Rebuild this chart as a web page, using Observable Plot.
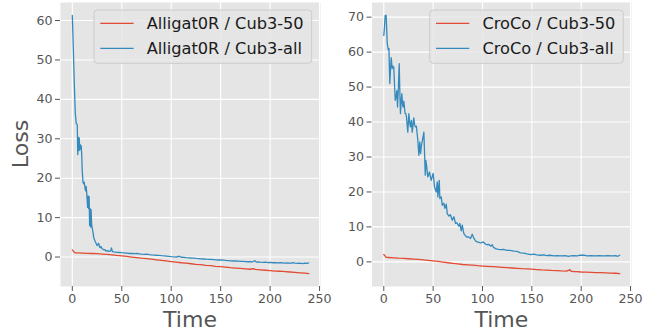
<!DOCTYPE html>
<html>
<head>
<meta charset="utf-8">
<script src="https://cdn.jsdelivr.net/npm/d3@7"></script>
<script src="https://cdn.jsdelivr.net/npm/@observablehq/plot@0.6"></script>
<style>
  html, body { margin: 0; padding: 0; background: #fff; }
  #wrap { position: relative; width: 654px; height: 335px; overflow: hidden; font-family: "DejaVu Sans", sans-serif; }
  .panel { position: absolute; top: 0; }
  .lab { position: absolute; font-size: 22px; line-height: 1; color: #555555; white-space: nowrap; }
  svg.leg { position: absolute; left: 0; top: 0; pointer-events: none; }
</style>
</head>
<body>
<div id="wrap"></div>
<script>
// ---------- data ----------
const xTicks = [0, 50, 100, 150, 200, 250];
const leftYTicks = [0, 10, 20, 30, 40, 50, 60];
const rightYTicks = [0, 10, 20, 30, 40, 50, 60, 70];

const leftLabels = ["Alligat0R / Cub3-50", "Alligat0R / Cub3-all"];
const rightLabels = ["CroCo / Cub3-50", "CroCo / Cub3-all"];

// [time, loss]
const alligatorCub50 = [[0,1.8],[1,1.5],[2,1.2],[3,1.05],[5,1.05],[10,1.0],[15,0.95],[20,0.9],[25,0.85],[30,0.75],[35,0.65],[40,0.55],[45,0.4],[50,0.3],[55,0.15],[60,0.0],[65,-0.15],[70,-0.3],[75,-0.4],[80,-0.55],[85,-0.7],[90,-0.85],[95,-1.0],[100,-1.15],[105,-1.3],[110,-1.45],[115,-1.55],[120,-1.7],[125,-1.85],[130,-1.95],[135,-2.1],[140,-2.2],[145,-2.35],[150,-2.45],[155,-2.55],[160,-2.7],[165,-2.8],[170,-2.9],[175,-3.0],[180,-3.1],[183,-2.95],[185,-3.15],[190,-3.25],[195,-3.35],[200,-3.45],[205,-3.55],[210,-3.6],[215,-3.7],[220,-3.8],[225,-3.9],[230,-4.0],[235,-4.1],[239,-4.2]];

const alligatorCubAll = [[0,61.3],[1,53],[2,44],[3,36.5],[4,33.8],[5,33.6],[5.5,26.0],[6,30.4],[6.5,27.0],[7,30.2],[7.5,27.2],[8,28.5],[8.5,27.5],[9,28.2],[9.5,26],[10,22],[10.8,19.0],[11.5,18.6],[12,19.0],[13,17.3],[13.5,16.8],[14,17.9],[14.5,16.5],[15.5,12.6],[16,15.5],[16.5,12.3],[17,15.3],[17.5,8.0],[18,12.3],[18.5,7.6],[19,12.0],[19.5,8.5],[20,7.5],[21,6.2],[21.6,5.0],[22.5,4.3],[23,4.0],[24,3.5],[25,2.9],[26,3.2],[26.6,3.5],[27.5,2.6],[28,2.4],[29,2.7],[30,2.1],[31,2.0],[32,1.8],[33,1.9],[34,1.5],[35,1.6],[36,1.6],[37,1.4],[38,1.5],[39,1.7],[39.5,2.3],[40,1.9],[40.5,1.4],[42,1.3],[45,1.2],[48,1.15],[50,1.1],[53,1.05],[55,1.0],[58,0.9],[60,0.95],[63,0.85],[65,0.9],[68,0.8],[70,0.75],[73,0.7],[75,0.72],[78,0.6],[80,0.55],[83,0.5],[85,0.45],[88,0.42],[90,0.35],[93,0.3],[95,0.25],[98,0.15],[100,0.1],[103,0.05],[105,0.0],[108,0.2],[110,-0.05],[113,-0.1],[115,-0.15],[118,-0.2],[120,-0.25],[123,-0.3],[125,-0.35],[128,-0.4],[130,-0.45],[133,-0.5],[135,-0.55],[138,-0.6],[140,-0.6],[143,-0.65],[145,-0.7],[148,-0.75],[150,-0.75],[153,-0.8],[155,-0.85],[158,-0.9],[160,-0.95],[163,-1.0],[165,-1.0],[168,-1.05],[170,-1.1],[173,-1.1],[175,-1.15],[178,-1.2],[180,-1.15],[182,-1.25],[184,-0.95],[185,-1.0],[186,-1.3],[188,-1.25],[190,-1.3],[193,-1.35],[195,-1.3],[198,-1.4],[200,-1.35],[203,-1.45],[205,-1.4],[208,-1.5],[210,-1.45],[213,-1.5],[215,-1.55],[218,-1.5],[220,-1.6],[223,-1.4],[225,-1.55],[228,-1.6],[230,-1.55],[233,-1.65],[235,-1.55],[237,-1.6],[239,-1.5]];

const crocoCub50 = [[0,2.1],[1,1.8],[2,1.4],[2.7,1.3],[5,1.25],[10,1.15],[15,1.05],[20,1.0],[25,0.9],[30,0.8],[35,0.7],[40,0.6],[45,0.45],[50,0.3],[55,0.15],[60,-0.05],[65,-0.25],[70,-0.45],[75,-0.6],[80,-0.75],[85,-0.85],[90,-0.95],[95,-1.1],[100,-1.2],[105,-1.28],[110,-1.37],[115,-1.45],[120,-1.55],[125,-1.65],[130,-1.75],[135,-1.85],[140,-1.95],[145,-2.0],[150,-2.1],[155,-2.2],[160,-2.3],[165,-2.35],[170,-2.45],[175,-2.5],[180,-2.6],[185,-2.65],[187,-2.45],[188.5,-2.2],[189.5,-2.65],[192,-2.75],[195,-2.8],[200,-2.9],[205,-2.95],[210,-3.0],[215,-3.05],[220,-3.1],[225,-3.15],[230,-3.2],[235,-3.25],[239,-3.35]];

const crocoCubAll = [[0,64.8],[0.7,67],[1.4,70.5],[2.4,70.5],[3,66],[3.5,62.4],[4.5,60.7],[5.2,61],[6.1,51],[7,56],[7.5,58.4],[8.5,55.3],[9.2,56],[10.1,55.7],[11,50],[11.6,46.2],[12.6,47.5],[13.2,49],[13.9,44.3],[14.8,50],[15.6,56.7],[16.3,48],[16.9,42.4],[17.6,46],[18.3,48.1],[19,45],[19.6,44.3],[20.3,46],[21.5,42.5],[22.3,42.4],[23,41.4],[24.3,37.1],[25.4,42.4],[26.2,40],[27,38.6],[28,40.5],[28.8,37.1],[30.4,41.2],[31.3,39],[32.1,38.6],[33,38.8],[34.5,34.8],[35.5,30.5],[36.5,34.3],[37.3,31],[38,33],[40.6,37.1],[41.3,31],[42,24.8],[42.6,29],[43.3,27.6],[44.6,24.3],[46.3,25.7],[48,23.3],[50,25.3],[51.4,21.4],[53.1,20],[54.2,22.9],[54.8,18.6],[56.2,23.3],[56.8,18.1],[58.2,18.6],[59.2,16.2],[60.9,16.8],[61.9,15.3],[63.3,16.5],[64.3,13.8],[66,13.1],[67.5,13.5],[69.4,11.9],[71,12.9],[72.7,11],[74,11.2],[76,10.2],[77,11],[78.5,8.9],[79.5,10.5],[81.1,8.1],[83.9,7.1],[85.5,7.2],[87.9,6.7],[89.6,7.9],[91.3,6.7],[93,6.0],[94.7,5.7],[96.5,5.6],[98,5.4],[100.8,5.7],[103,5.1],[105,4.9],[106.5,5.0],[108.5,4.5],[109.9,4.9],[111,4.2],[113.3,3.8],[116,3.6],[118.4,3.5],[121,3.6],[125,3.3],[128,3.3],[131.9,3.1],[135,3.0],[138.6,2.6],[142,2.5],[145,2.3],[148.8,2.1],[152,2.2],[155,2.0],[158.9,1.9],[162,2.0],[165,1.8],[168,1.9],[172.4,1.7],[176,1.8],[180,1.7],[184,1.8],[187,1.6],[189.3,1.7],[193,1.8],[196,1.7],[199,1.9],[202.8,1.9],[206,1.7],[210,1.8],[214,1.7],[218,1.8],[223,1.7],[227,1.8],[231,1.7],[235,1.8],[237,1.6],[239,1.9]];

// ---------- style ----------
const RED = "#E24A33", BLUE = "#348ABD", BG = "#E5E5E5", TXT = "#555555";

function paddedDomain(values) {
  const [lo, hi] = d3.extent(values);
  const p = (hi - lo) * 0.05;
  return [lo - p, hi + p];
}

function panel({width, ml, mr, yTicks, s50, sAll}) {
  const xDomain = paddedDomain([...s50, ...sAll].map(d => d[0]));
  const yDomain = paddedDomain([...s50, ...sAll].map(d => d[1]));
  return Plot.plot({
    width, height: 335,
    marginLeft: ml, marginRight: mr, marginTop: 2, marginBottom: 49,
    style: {fontFamily: "DejaVu Sans, sans-serif", fontSize: "12.6px", color: TXT, background: "transparent", overflow: "visible"},
    x: {domain: xDomain},
    y: {domain: yDomain},
    marks: [
      Plot.frame({fill: BG, stroke: "none"}),
      Plot.gridX(xTicks, {stroke: "white", strokeOpacity: 1, strokeWidth: 1.1}),
      Plot.gridY(yTicks, {stroke: "white", strokeOpacity: 1, strokeWidth: 1.1}),
      Plot.axisX({ticks: xTicks, tickSize: 5, tickPadding: 3, label: null, stroke: TXT, fill: TXT}),
      Plot.axisY({ticks: yTicks, tickSize: 5, tickPadding: 3, label: null, stroke: TXT, fill: TXT}),
      Plot.line(s50, {x: d => d[0], y: d => d[1], stroke: RED, strokeWidth: 1.3}),
      Plot.line(sAll, {x: d => d[0], y: d => d[1], stroke: BLUE, strokeWidth: 1.3})
    ]
  });
}

const wrap = document.getElementById("wrap");

const left = panel({width: 327, ml: 60, mr: 7, yTicks: leftYTicks, s50: alligatorCub50, sAll: alligatorCubAll});
left.classList.add("panel"); left.style.left = "0px";
wrap.appendChild(left);

const right = panel({width: 327, ml: 44.5, mr: 23, yTicks: rightYTicks, s50: crocoCub50, sAll: crocoCubAll});
right.classList.add("panel"); right.style.left = "327px";
wrap.appendChild(right);

// axis titles
function label(text, x, y, rotate) {
  const d = document.createElement("div");
  d.className = "lab";
  d.textContent = text;
  d.style.left = x + "px";
  d.style.top = y + "px";
  d.style.transform = rotate ? "translate(-50%,-50%) rotate(-90deg)" : "translate(-50%,0)";
  wrap.appendChild(d);
}
label("Loss", 20.7, 144, true);
label("Time", 190, 309, false);
label("Time", 501.3, 309, false);

// legends
const svg = d3.select(wrap).append("svg").attr("class", "leg").attr("width", 654).attr("height", 335);
function legend(x0, x1, labels) {
  const g = svg.append("g").attr("font-family", "DejaVu Sans, sans-serif").attr("font-size", 16.2);
  g.append("rect").attr("x", x0).attr("y", 10).attr("width", x1 - x0).attr("height", 53.3)
    .attr("rx", 3.5).attr("fill", BG).attr("fill-opacity", 0.8).attr("stroke", "#CCCCCC").attr("stroke-width", 1);
  [RED, BLUE].forEach((c, i) => {
    const cy = 23.3 + i * 25;
    g.append("line").attr("x1", x0 + 6.3).attr("x2", x0 + 39.6).attr("y1", cy).attr("y2", cy)
      .attr("stroke", c).attr("stroke-width", 1.3);
    g.append("text").attr("x", x0 + 52.7).attr("y", cy + 5.9).attr("fill", "#1a1a1a").text(labels[i]);
  });
}
legend(94, 311.7, leftLabels);
legend(429.7, 623.3, rightLabels);
</script>
</body>
</html>
